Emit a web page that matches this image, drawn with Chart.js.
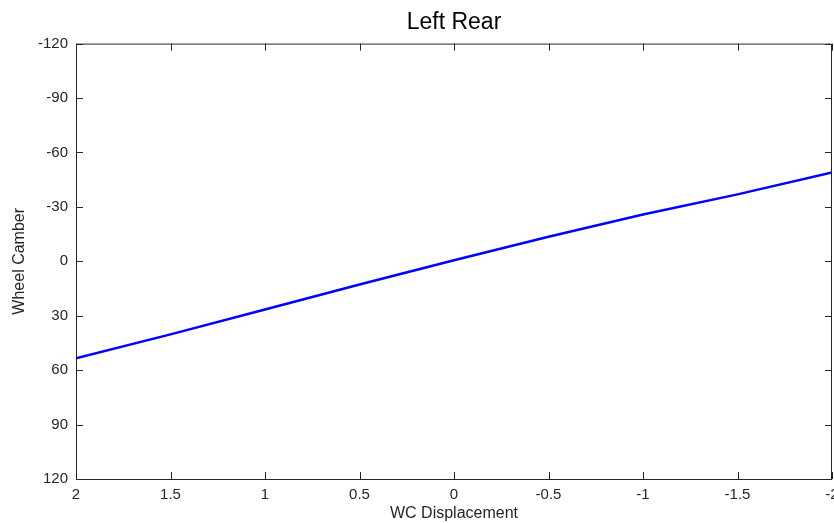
<!DOCTYPE html>
<html>
<head>
<meta charset="utf-8">
<script src="https://cdn.jsdelivr.net/npm/chart.js@4"></script>
<style>
  html, body { margin: 0; padding: 0; background: #fff; overflow: hidden; }
  #wrap { width: 834px; height: 523px; }
</style>
</head>
<body>
<div id="wrap"><canvas id="camber-chart"></canvas></div>
<script>
// wheel centre displacement vs camber, left rear corner
const displacement = [2, 1.5, 1, 0.5, 0, -0.5, -1, -1.5, -2];
const camber = [53.4, 40.3, 26.6, 12.8, -0.6, -13.5, -25.8, -36.9, -49];
const xTicks = [2, 1.5, 1, 0.5, 0, -0.5, -1, -1.5, -2];
const yTicks = [-120, -90, -60, -30, 0, 30, 60, 90, 120];

const FONT = "'Liberation Sans', Arial, sans-serif";

// box around the axes with short inward ticks on every side
const boxTicks = {
    id: 'boxTicks',
    afterDraw(chart) {
        const {ctx, chartArea: a, scales} = chart;
        const len = 7;
        ctx.save();
        ctx.strokeStyle = '#262626';
        ctx.lineWidth = 1;
        ctx.beginPath();
        ctx.rect(a.left + 0.5, a.top + 0.5, a.right - a.left - 1, a.bottom - a.top);
        scales.x.ticks.forEach(t => {
            const px = Math.round(scales.x.getPixelForValue(t.value)) + 0.5;
            ctx.moveTo(px, a.bottom);
            ctx.lineTo(px, a.bottom - len);
            ctx.moveTo(px, a.top);
            ctx.lineTo(px, a.top + len);
        });
        scales.y.ticks.forEach(t => {
            const py = Math.round(scales.y.getPixelForValue(t.value)) + 0.5;
            ctx.moveTo(a.left, py);
            ctx.lineTo(a.left + len, py);
            ctx.moveTo(a.right, py);
            ctx.lineTo(a.right - len, py);
        });
        ctx.stroke();
        ctx.restore();
    }
};

const ctx = document.getElementById('camber-chart').getContext('2d');
new Chart(ctx, {
    type: 'scatter',
    data: {
        datasets: [{
            data: displacement.map((d, i) => ({x: d, y: camber[i]})),
            showLine: true,
            borderColor: '#0000ff',
            borderWidth: 2.5,
            pointRadius: 0,
            tension: 0
        }]
    },
    options: {
        responsive: true,
        maintainAspectRatio: false,
        animation: false,
        layout: { padding: { left: 0, right: 2, top: 0, bottom: 0 } },
        plugins: {
            legend: { display: false },
            tooltip: { enabled: false },
            title: {
                display: true,
                fullSize: false,
                text: 'Left Rear',
                color: '#000',
                font: { family: FONT, size: 23, weight: 'normal' },
                padding: { top: 9, bottom: 7 }
            }
        },
        scales: {
            x: {
                type: 'linear',
                reverse: true,
                min: -2,
                max: 2,
                afterBuildTicks: s => { s.ticks = xTicks.map(v => ({value: v})); },
                afterFit: s => { s.height = 44; s.paddingLeft = 0; s.paddingRight = 0; },
                grid: { display: false, drawTicks: false },
                border: { display: false },
                ticks: {
                    color: '#262626',
                    font: { family: FONT, size: 15 },
                    padding: 7,
                    maxRotation: 0,
                    autoSkip: false,
                    callback: v => String(v)
                },
                title: {
                    display: true,
                    text: 'WC Displacement',
                    color: '#262626',
                    font: { family: FONT, size: 16 },
                    padding: { top: 2, bottom: 0 }
                }
            },
            y: {
                type: 'linear',
                reverse: true,
                min: -120,
                max: 120,
                afterBuildTicks: s => { s.ticks = yTicks.map(v => ({value: v})); },
                afterFit: s => { s.width = 76; s.paddingTop = 0; s.paddingBottom = 0; },
                grid: { display: false, drawTicks: false },
                border: { display: false },
                ticks: {
                    color: '#262626',
                    font: { family: FONT, size: 15 },
                    padding: 8,
                    autoSkip: false,
                    callback: v => String(v)
                },
                title: {
                    display: true,
                    text: 'Wheel Camber',
                    color: '#262626',
                    font: { family: FONT, size: 16 },
                    padding: { top: 10, bottom: 0 }
                }
            }
        }
    },
    plugins: [boxTicks]
});
</script>
</body>
</html>
